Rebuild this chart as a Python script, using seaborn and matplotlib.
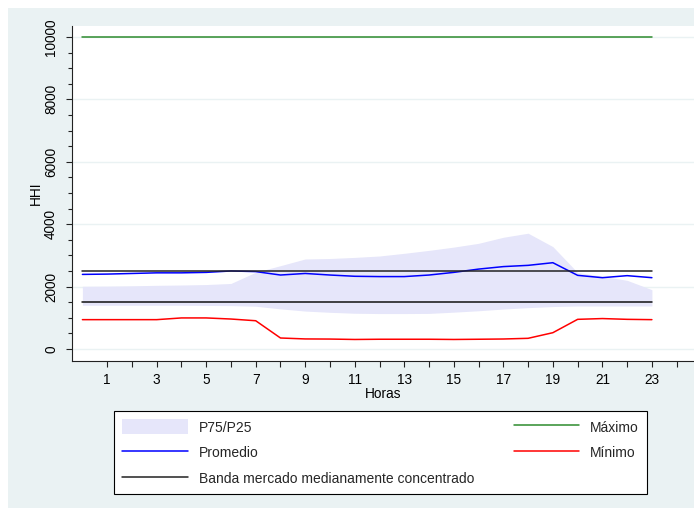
import pandas as pd
import seaborn as sns
import matplotlib.pyplot as plt
from matplotlib.patches import Rectangle, Patch
from matplotlib.lines import Line2D
from matplotlib.ticker import FixedLocator, MultipleLocator

# HHI por hora (0-23)
horas = list(range(24))
promedio = [2390, 2400, 2420, 2440, 2440, 2455, 2500, 2480, 2370, 2420, 2370, 2330,
            2320, 2320, 2370, 2455, 2560, 2640, 2680, 2765, 2360, 2285, 2350, 2285]
minimo = [940, 940, 940, 940, 995, 995, 960, 905, 352, 322, 318, 305,
          312, 312, 312, 305, 312, 320, 342, 522, 950, 975, 950, 940]
maximo = [10000, 10000, 10000, 10000, 10000, 10000, 10000, 10000, 10000, 10000, 10000, 10000,
          10000, 10000, 10000, 10000, 10000, 10000, 10000, 10000, 10000, 10000, 10000, 10000]
p75 = [2010, 2015, 2025, 2040, 2050, 2065, 2100, 2460, 2670, 2885, 2900, 2935,
       2980, 3066, 3160, 3265, 3386, 3580, 3710, 3280, 2450, 2330, 2200, 1900]
p25 = [1400, 1400, 1400, 1400, 1400, 1395, 1390, 1370, 1285, 1215, 1175, 1145,
       1135, 1135, 1140, 1180, 1225, 1280, 1325, 1360, 1378, 1378, 1378, 1378]
banda_alta = [2500] * 24
banda_baja = [1500] * 24

df = pd.DataFrame({"Horas": horas, "Promedio": promedio, "Minimo": minimo,
                   "Maximo": maximo, "P75": p75, "P25": p25,
                   "Alta": banda_alta, "Baja": banda_baja})

sns.set_style("ticks")
plt.rcParams['font.family'] = ['Liberation Sans', 'DejaVu Sans']

W, H = 694, 514
fig = plt.figure(figsize=(W / 100, H / 100), dpi=100, facecolor="white")

# stata-like background panel
fig.patches.append(Rectangle((8 / W, 1 - 508 / H), (W - 8) / W, 500 / H,
                             transform=fig.transFigure, facecolor="#EAF2F3",
                             edgecolor="none", zorder=-10))

ax = fig.add_axes([72 / W, 1 - 361 / H, 1 - 72 / W, (361 - 26) / H])
ax.set_facecolor("white")

band_col = "#E6E6FA"
ax.fill_between(df["Horas"], df["P25"], df["P75"], color=band_col, lw=0, zorder=1)
sns.lineplot(data=df, x="Horas", y="Maximo", color="#2E8B2E", lw=1.1, ax=ax, zorder=3)
sns.lineplot(data=df, x="Horas", y="Promedio", color="#0000FF", lw=1.1, ax=ax, zorder=3)
sns.lineplot(data=df, x="Horas", y="Minimo", color="#FF0000", lw=1.1, ax=ax, zorder=3)
sns.lineplot(data=df, x="Horas", y="Alta", color="#222222", lw=1.1, ax=ax, zorder=4)
sns.lineplot(data=df, x="Horas", y="Baja", color="#111111", lw=1.1, ax=ax, zorder=4)

ax.set_xlim(-0.42, 24.7)
ax.set_ylim(-385, 10350)

ax.xaxis.set_major_locator(FixedLocator(list(range(1, 24, 2))))
ax.xaxis.set_minor_locator(FixedLocator(list(range(2, 25, 2))))
ax.yaxis.set_major_locator(MultipleLocator(2000))
ax.yaxis.set_minor_locator(MultipleLocator(500))

ax.grid(axis="y", which="major", color="#EAF2F3", lw=1.0, zorder=0)
ax.set_axisbelow(True)

ax.tick_params(axis="x", which="both", length=4, width=0.8, color="#222222",
               labelsize=9.8, pad=4.5, labelcolor="black")
ax.tick_params(axis="y", which="major", length=4, width=0.8, color="#222222",
               labelsize=9.8, pad=6, labelcolor="black")
ax.tick_params(axis="y", which="minor", length=3, width=0.8, color="#222222")
for lab in ax.get_yticklabels():
    lab.set_rotation(90)
    lab.set_va("center")

for s in ["top", "right"]:
    ax.spines[s].set_visible(False)
for s in ["left", "bottom"]:
    ax.spines[s].set_color("#222222")
    ax.spines[s].set_linewidth(0.8)

ax.set_xlabel("Horas", fontsize=9.8, labelpad=0, color="black")
ax.set_ylabel("HHI", fontsize=9.8, labelpad=1, color="black")

handles = [
    Patch(facecolor=band_col, edgecolor="none"),
    Line2D([], [], color="#0000FF", lw=1.1),
    Line2D([], [], color="#222222", lw=1.1),
    Line2D([], [], color="#2E8B2E", lw=1.1),
    Line2D([], [], color="#FF0000", lw=1.1),
]
labels = ["P75/P25", "Promedio", "Banda mercado medianamente concentrado",
          "Máximo", "Mínimo"]
leg = fig.legend(handles, labels, loc="upper left",
                 bbox_to_anchor=(114 / W, 1 - 493 / H, 533 / W, 82 / H),
                 mode="expand", ncol=2, fontsize=10, frameon=True, fancybox=False,
                 edgecolor="black", facecolor="white", framealpha=1,
                 borderaxespad=0, handlelength=4.7, handleheight=1.3,
                 handletextpad=0.8, labelspacing=0.75, borderpad=0.6)
leg.get_frame().set_linewidth(0.8)

fig.savefig("out.png", dpi=100)
